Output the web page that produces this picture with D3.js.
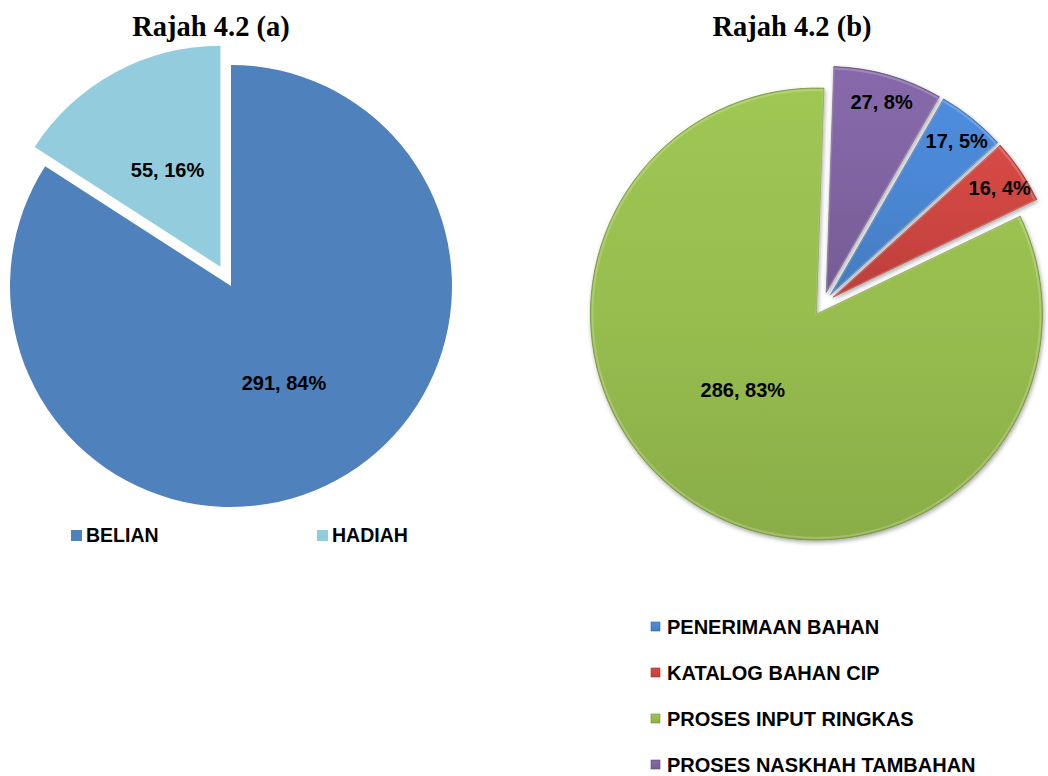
<!DOCTYPE html>
<html>
<head>
<meta charset="utf-8">
<script src="https://cdn.jsdelivr.net/npm/d3@7"></script>
<style>
  body { margin: 0; background: #fff; }
  text { font-family: "Liberation Sans", Arial, sans-serif; font-weight: bold; }
  .title { font-family: "Liberation Serif", "Times New Roman", serif; font-weight: bold; }
</style>
</head>
<body>
<svg id="vis"></svg>
<script>
// ---- data ----
var leftCategories = ["BELIAN", "HADIAH"];
var leftValues = [291, 55];
var leftPercents = [84, 16];

var rightCategories = ["PENERIMAAN BAHAN", "KATALOG BAHAN CIP", "PROSES INPUT RINGKAS", "PROSES NASKHAH TAMBAHAN"];
var rightValues = [17, 16, 286, 27];
var rightPercents = [5, 4, 83, 8];

var titles = ["Rajah 4.2 (a)", "Rajah 4.2 (b)"];

var leftColors = ["#4f81bd", "#93cddd"];
var rightColors = ["#4a86d2", "#cc4541", "#97bd4f", "#8064a2"];

var width = 1048, height = 776;

var svg = d3.select("#vis")
    .attr("width", width)
    .attr("height", height);

var defs = svg.append("defs");

// soft shadow for the 3d looking pie
var shadow = defs.append("filter").attr("id", "shadow")
    .attr("x", "-20%").attr("y", "-20%").attr("width", "140%").attr("height", "140%");
shadow.append("feDropShadow")
    .attr("dx", 1).attr("dy", 2).attr("stdDeviation", 2)
    .attr("flood-color", "#000").attr("flood-opacity", 0.35);

rightColors.forEach(function(c, i) {
    var g = defs.append("linearGradient").attr("id", "grad" + i)
        .attr("x1", 0).attr("y1", 0).attr("x2", 0).attr("y2", 1);
    g.append("stop").attr("offset", "0%").attr("stop-color", d3.color(c).brighter(0.15));
    g.append("stop").attr("offset", "50%").attr("stop-color", c);
    g.append("stop").attr("offset", "100%").attr("stop-color", d3.color(c).darker(0.25));
});

// titles
svg.selectAll(".title")
    .data(titles)
    .enter().append("text")
    .attr("class", "title")
    .attr("x", function(d, i) { return i == 0 ? 211 : 792; })
    .attr("y", 36)
    .attr("text-anchor", "middle")
    .style("font-size", "28.5px")
    .text(function(d) { return d; });

//#####################################################
// left pie
var lR = 221;
var left = svg.append("g").attr("transform", "translate(231,286)");

var leftPie = d3.pie().sort(null).value(function(d) { return d; });
var leftArc = d3.arc().innerRadius(0).outerRadius(lR);
var leftLabelArc = d3.arc().innerRadius(lR * 0.5).outerRadius(lR * 0.5);

function leftOffset(d, i) {
    var e = i == 1 ? 22 : 0;
    var a = (d.startAngle + d.endAngle) / 2;
    return [Math.sin(a) * e, -Math.cos(a) * e];
}

var leftSlices = left.selectAll(".lslice")
    .data(leftPie(leftValues))
    .enter().append("g")
    .attr("transform", function(d, i) { return "translate(" + leftOffset(d, i) + ")"; });

leftSlices.append("path")
    .attr("d", leftArc)
    .attr("fill", function(d, i) { return leftColors[i]; });

leftSlices.append("text")
    .attr("transform", function(d) { return "translate(" + leftLabelArc.centroid(d) + ")"; })
    .attr("text-anchor", "middle")
    .attr("dy", "0.35em")
    .style("font-size", "20px")
    .text(function(d, i) { return d.value + ", " + leftPercents[i] + "%"; });

// left legend
var leftLegend = svg.append("g").selectAll(".llegend")
    .data(leftCategories)
    .enter().append("g")
    .attr("transform", function(d, i) { return "translate(" + (71 + i * 246) + ",530)"; });
leftLegend.append("rect")
    .attr("width", 11).attr("height", 11)
    .attr("fill", function(d, i) { return leftColors[i]; });
leftLegend.append("text")
    .attr("x", 15).attr("y", 12)
    .style("font-size", "19.5px")
    .text(function(d) { return d; });

//#####################################################
// right pie (first slice starts at 30 degrees)
var rR = 226;
var start = 30 * Math.PI / 180;
var right = svg.append("g").attr("transform", "translate(823,304)");

var rightPie = d3.pie().sort(null).value(function(d) { return d; })
    .startAngle(start).endAngle(start + 2 * Math.PI);
var rightArc = d3.arc().innerRadius(0).outerRadius(rR);

function rightOffset(d) {
    var a = (d.startAngle + d.endAngle) / 2;
    return [Math.sin(a) * 12, -Math.cos(a) * 12];
}

var rightSlices = right.selectAll(".rslice")
    .data(rightPie(rightValues))
    .enter().append("g")
    .attr("transform", function(d) { return "translate(" + rightOffset(d) + ")"; });

rightSlices.append("path")
    .attr("d", rightArc)
    .attr("fill", function(d, i) { return "url(#grad" + i + ")"; })
    .attr("stroke", function(d, i) { return d3.color(rightColors[i]).darker(0.8); })
    .attr("stroke-width", 0.8)
    .attr("filter", "url(#shadow)");

// light bevel on the edges
rightSlices.append("path")
    .attr("d", d3.arc().innerRadius(0).outerRadius(rR - 2))
    .attr("fill", "none")
    .attr("stroke", "#fff")
    .attr("stroke-opacity", 0.2)
    .attr("stroke-width", 2);

// small slices: label near the rim; big slice: nudged toward lower left (best fit)
rightSlices.append("text")
    .attr("transform", function(d) {
        var small = (d.endAngle - d.startAngle) / (2 * Math.PI) < 0.1;
        var f = small ? 0.89 : 0.46;
        var a = (d.startAngle + d.endAngle) / 2 + (small ? 0 : 12 * Math.PI / 180);
        return "translate(" + [Math.sin(a) * rR * f, -Math.cos(a) * rR * f] + ")";
    })
    .attr("text-anchor", "middle")
    .attr("dy", "0.5em")
    .style("font-size", "20px")
    .text(function(d, i) { return d.value + ", " + rightPercents[i] + "%"; });

// right legend
var rightLegend = svg.append("g").selectAll(".rlegend")
    .data(rightCategories)
    .enter().append("g")
    .attr("transform", function(d, i) { return "translate(651," + (622 + i * 46) + ")"; });
rightLegend.append("rect")
    .attr("width", 9).attr("height", 9)
    .attr("fill", function(d, i) { return "url(#grad" + i + ")"; })
    .attr("stroke", function(d, i) { return d3.color(rightColors[i]).darker(0.8); })
    .attr("stroke-width", 0.6);
rightLegend.append("text")
    .attr("x", 16).attr("y", 12)
    .style("font-size", "20px")
    .text(function(d) { return d; });
</script>
</body>
</html>
